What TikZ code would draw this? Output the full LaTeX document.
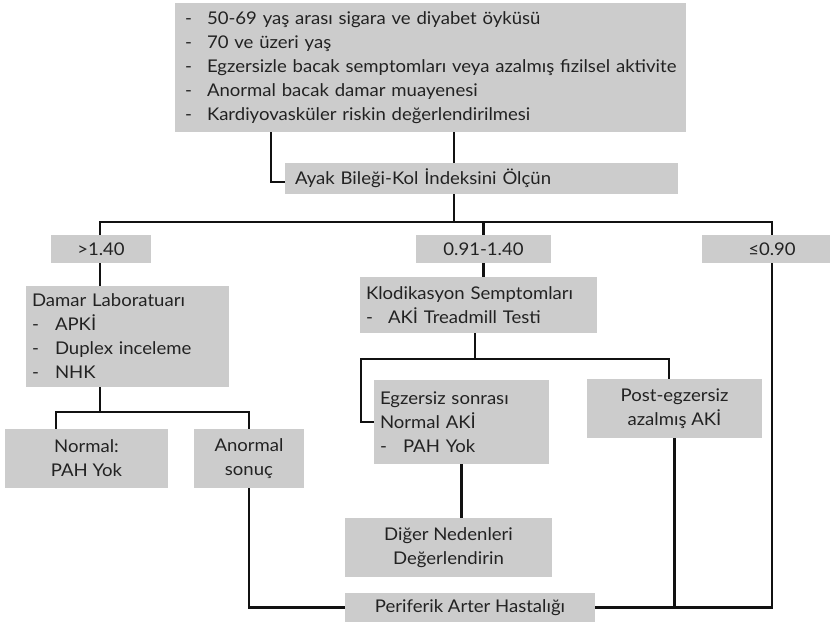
\documentclass[tikz,border=0pt]{standalone}
\usepackage{fontspec}
\setmainfont{Lato}[FakeStretch=1.06]
\usetikzlibrary{backgrounds}
\definecolor{boxgray}{RGB}{204,204,204}
\definecolor{inkgray}{RGB}{34,34,34}
\definecolor{wire}{RGB}{17,17,17}
\hfuzz=20pt
% one dash-led list line inside a box, kept on a single line
\newcommand\dashline[2][22pt]{\mbox{\makebox[#1][l]{-}#2}}
\begin{document}
\begin{tikzpicture}[x=1pt,y=-1pt,
  box/.style={fill=boxgray, inner ysep=0pt, inner xsep=0pt, text=inkgray,
    font=\fontsize{17.5}{24}\selectfont},
  leftbox/.style={box, align=left},
  midbox/.style={box, align=center},
  conn/.style={draw=wire, line width=2.4pt}]
\useasboundingbox (0,0) rectangle (830,624);

% boxes
\node[leftbox, minimum width=511pt, minimum height=129pt, text width=491pt] (risk) at (430.5,67.5)
  {\dashline{50-69 yaş arası sigara ve diyabet öyküsü}\\
   \dashline{70 ve üzeri yaş}\\
   \dashline{Egzersizle bacak semptomları veya azalmış fizilsel aktivite}\\
   \dashline{Anormal bacak damar muayenesi}\\
   \dashline{Kardiyovasküler riskin değerlendirilmesi}};
\node[leftbox, minimum width=393pt, minimum height=31pt, text width=373pt] (ayak) at (481.5,178.5)
  {Ayak Bileği-Kol İndeksini Ölçün};
\node[midbox, minimum width=100pt, minimum height=28pt] (hi) at (101,249) {>1.40};
\node[midbox, minimum width=135pt, minimum height=28pt] (mid) at (483.5,249) {0.91-1.40};
\node[midbox, minimum width=140pt, minimum height=28pt] (lo) at (772,249) {≤0.90};
\node[leftbox, minimum width=203pt, minimum height=101pt, text width=191pt] (damar) at (127.5,336.5)
  {Damar Laboratuarı\\
   \dashline[23pt]{APKİ}\\
   \dashline[23pt]{Duplex inceleme}\\
   \dashline[23pt]{NHK}};
\node[leftbox, minimum width=237pt, minimum height=56pt, text width=225pt] (klod) at (478.5,305)
  {Klodikasyon Semptomları\\
   \dashline{AKİ Treadmill Testi}};
\node[midbox, minimum width=163pt, minimum height=59pt] (normal) at (86.5,458.5)
  {Normal:\\PAH Yok};
\node[midbox, minimum width=110pt, minimum height=59pt] (abn) at (249,458.5)
  {Anormal\\sonuç};
\node[leftbox, minimum width=175pt, minimum height=84pt, text width=163pt] (egz) at (461.5,422)
  {Egzersiz sonrası\\
   Normal AKİ\\
   \dashline[23pt]{PAH Yok}};
\node[midbox, minimum width=175pt, minimum height=59pt] (post) at (674.5,408.5)
  {Post-egzersiz\\azalmış AKİ};
\node[midbox, minimum width=207pt, minimum height=59pt] (diger) at (448.5,547.5)
  {Diğer Nedenleri\\Değerlendirin};
\node[midbox, minimum width=250pt, minimum height=29pt] (pah) at (470,607.5)
  {Periferik Arter Hastalığı};

% junction points of the connector tree
\coordinate (bus) at (454,222);
\coordinate (lk) at (271,182);
\coordinate (dj) at (100,412);
\coordinate (nj) at (56,412);
\coordinate (kj) at (475,359);
\coordinate (kl) at (361,359);
\coordinate (kr) at (669,359);

\begin{scope}[on background layer]
  \draw[conn] (risk.south -| bus) -- (ayak.north -| bus);
  \draw[conn] (risk.south -| lk) |- (ayak.west |- lk);
  \draw[conn] (ayak.south -| bus) -- (bus);
  \draw[conn] (damar.north -| dj) -- (dj |- bus) -| (lo.center |- pah.east) -- (pah.east);
  \draw[conn] (klod.north -| mid.center) -- (mid.center |- bus);
  \draw[conn] (damar.south -| dj) -- (dj);
  \draw[conn] (normal.north -| nj) -- (nj) -| (abn.north);
  \draw[conn] (abn.south) |- (pah.west);
  \draw[conn] (klod.south -| kj) -- (kj);
  \draw[conn] (egz.west) -| (kl) -- (kr) -- (post.north -| kr);
  \draw[conn] (egz.south) -- (diger.north -| egz.south);
  \draw[conn] (post.south) -- (post.south |- pah.east);
\end{scope}
\end{tikzpicture}
\end{document}
